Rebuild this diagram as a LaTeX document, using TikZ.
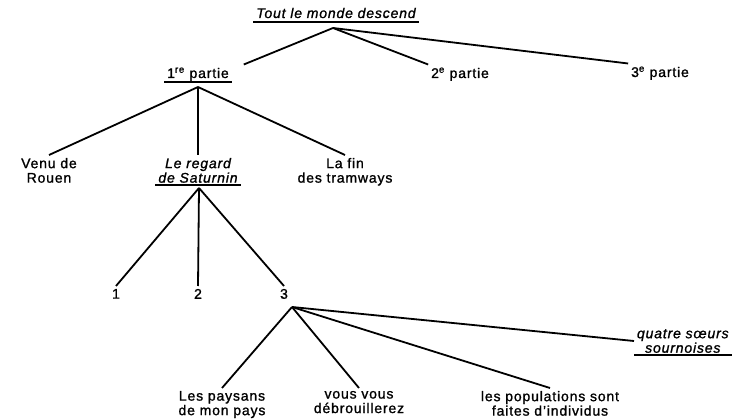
\documentclass[tikz,border=0pt]{standalone}
\usepackage{fontspec}
\setmainfont{Liberation Sans}[LetterSpace=6, FakeBold=1.2]
\usepackage{tikz}
\usetikzlibrary{positioning,calc}

\tikzset{
    label/.style={inner sep=1pt, outer sep=2pt, align=center, font=\fontsize{14}{14.5}\selectfont},
    titre/.style={label, font=\fontsize{14}{14.5}\selectfont\itshape},
    branche/.style={line width=1.8pt},
    souligne/.style={line width=2.4pt}
}

\begin{document}
\begin{tikzpicture}[x=1pt, y=-1pt]
    \useasboundingbox (0,0) rectangle (735,419);

    \node[titre, anchor=base] (monde) at (336,18) {Tout le monde descend};
    \node[label, anchor=base] (p1) at (198,78) {1\textsuperscript{re} partie};
    \node[label, anchor=base] (p2) at (460,78) {2\textsuperscript{e} partie};
    \node[label, anchor=base] (p3) at (660,77) {3\textsuperscript{e} partie};

    \node[label, anchor=north] (venu) at (49,155) {Venu de\\Rouen};
    \node[titre, anchor=north] (regard) at (198,155) {Le regard\\de Saturnin};
    \node[label, anchor=north] (fin) at (345,155) {La fin\\des tramways};

    \node[label, anchor=north] (un) at (116,286) {1};
    \node[label, anchor=north] (deux) at (198,286) {2};
    \node[label, anchor=north] (trois) at (284,286) {3};

    \node[label, anchor=north] (paysans) at (222,388) {Les paysans\\de mon pays};
    \node[label, anchor=north] (vous) at (359,388) {vous vous\\débrouillerez};
    \node[label, anchor=north] (populations) at (550,388) {les populations sont\\faites d'individus};
    \node[titre, anchor=west] (soeurs) at (634,341) {quatre sœurs\\sournoises};

    \coordinate (h0) at (333,28);
    \coordinate (h1) at (198,87);
    \coordinate (h2) at (199,188);
    \coordinate (h3) at (292,307);

    \draw[souligne] ([yshift=-4pt]monde.base west) -- ([yshift=-4pt]monde.base east);
    \draw[souligne] ([yshift=-4pt]p1.base west) -- ([yshift=-4pt]p1.base east);
    \draw[souligne] ([yshift=1pt]regard.south west) -- ([yshift=1pt]regard.south east);
    \draw[souligne] ([yshift=1pt]soeurs.south west) -- ([yshift=1pt]soeurs.south east);

    \draw[branche] (h0) -- ([xshift=12pt]p1.north east);
    \draw[branche] (h0) -- (p2.north west);
    \draw[branche] (h0) -- (p3.north west);

    \draw[branche] (h1) -- (venu.north);
    \draw[branche] (h1) -- (regard.north);
    \draw[branche] (h1) -- (fin.north);

    \draw[branche] (h2) -- (un.north);
    \draw[branche] (h2) -- (deux.north);
    \draw[branche] (h2) -- (trois.north);

    \draw[branche] (h3) -- (paysans.north);
    \draw[branche] (h3) -- (vous.north);
    \draw[branche] (h3) -- (populations.north);
    \draw[branche] (h3) -- (soeurs.west);
\end{tikzpicture}
\end{document}
